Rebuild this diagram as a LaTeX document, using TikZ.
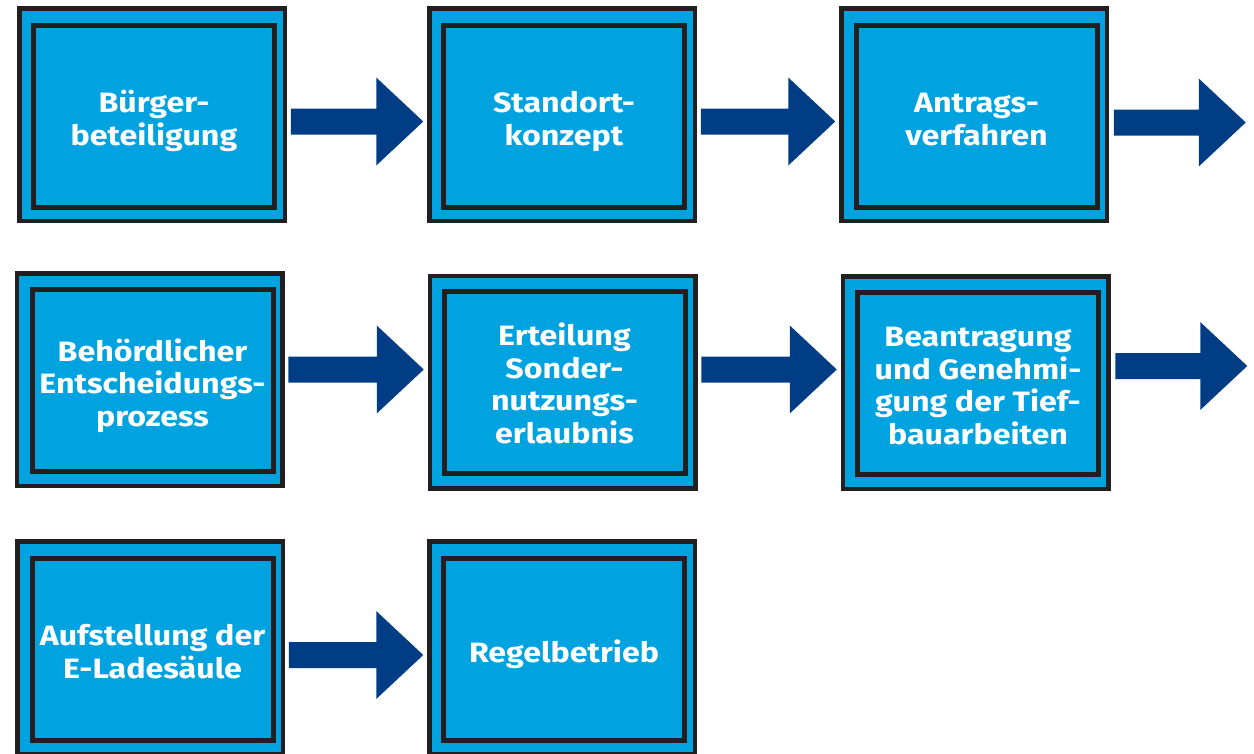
\documentclass[tikz,border=0pt]{standalone}
\usepackage{fontspec}
\setmainfont{Fira Sans}
\newfontfamily\stepfont{Fira Sans}[FakeStretch=1.15]
\usetikzlibrary{calc}
\definecolor{boxfill}{HTML}{00A3E0}
\definecolor{boxedge}{HTML}{231F20}
\definecolor{arrowblue}{HTML}{003D84}

\tikzset{
  outerbox/.style={draw=boxedge, fill=boxfill, line width=4.5pt, inner sep=0pt, outer sep=0pt,
    minimum width=265.5pt, minimum height=212.5pt},
  innerbox/.style={draw=boxedge, line width=5pt, inner sep=0pt, outer sep=0pt,
    minimum width=241pt, minimum height=182pt},
  steptext/.style={text=white, align=center, anchor=base, inner sep=0pt,
    font=\stepfont\bfseries\fontsize{28}{32.5}\selectfont},
}

% block arrow from a start coordinate to a tip coordinate
\newcommand\flowarrow[2]{%
  \fill[arrowblue] ($(#1)+(0,-13)$) -- ($(#2)+(-47,-13)$) -- ($(#2)+(-47,-44)$) -- (#2)
    -- ($(#2)+(-47,44)$) -- ($(#2)+(-47,13)$) -- ($(#1)+(0,13)$) -- cycle;}

\begin{document}
\begin{tikzpicture}[x=1pt, y=-1pt]
\useasboundingbox (0,0) rectangle (1254,753);
\clip (0,0) rectangle (1254,753);

% row 1
\node[outerbox] (o1) at (152,114.5) {};
\node[innerbox] (i1) at (154,116.5) {};
\node[steptext] (t1) at (154,145) {Bürger-\\beteiligung};
\node[outerbox] (o2) at (562,114.5) {};
\node[innerbox] (i2) at (564,116.5) {};
\node[steptext] (t2) at (564,145) {Standort-\\konzept};
\node[outerbox] (o3) at (974,114.5) {};
\node[innerbox] (i3) at (976.5,116.5) {};
\node[steptext] (t3) at (976.5,145) {Antrags-\\verfahren};

% row 2
\node[outerbox] (o4) at (149.5,379.5) {};
\node[innerbox] (i4) at (152.5,380.5) {};
\node[steptext] (t4) at (152.5,426) {Behördlicher\\Entscheidungs-\\prozess};
\node[outerbox] (o5) at (562.5,382) {};
\node[innerbox] (i5) at (564.5,382.5) {};
\node[steptext] (t5) at (564.5,443) {Erteilung\\Sonder-\\nutzungs-\\erlaubnis};
\node[outerbox] (o6) at (975.5,382.5) {};
\node[innerbox] (i6) at (978,383.5) {};
\node[steptext] (t6) at (978,444) {Beantragung\\und Genehmi-\\gung der Tief-\\bauarbeiten};

% row 3
\node[outerbox] (o7) at (150,647.5) {};
\node[innerbox] (i7) at (152.5,649.5) {};
\node[steptext] (t7) at (152.5,678) {Aufstellung der\\E-Ladesäule};
\node[outerbox] (o8) at (562,647.5) {};
\node[innerbox] (i8) at (564,649.5) {};
\node[steptext] (t8) at (564,662) {Regelbetrieb};

% arrow end points
\coordinate (a1s) at ($(o1.east)+(6,7)$);
\coordinate (a1e) at ($(o2.west |- a1s)+(-6,0)$);
\coordinate (a2s) at ($(o2.east)+(6,7)$);
\coordinate (a2e) at ($(o3.west |- a2s)+(-6,0)$);
\coordinate (a3s) at ($(o3.east)+(7,8)$);
\coordinate (a3e) at ($(a3s)+(132,0)$);
\coordinate (a4s) at ($(o4.east)+(6,-10)$);
\coordinate (a4e) at ($(o5.west |- a4s)+(-6,0)$);
\coordinate (a5s) at ($(o5.east)+(6,-12.5)$);
\coordinate (a5e) at ($(o6.west |- a5s)+(-6,0)$);
\coordinate (a6s) at ($(o6.east)+(7,-16.5)$);
\coordinate (a6e) at ($(a6s)+(132,0)$);
\coordinate (a7s) at ($(o7.east)+(6,7.5)$);
\coordinate (a7e) at ($(o8.west |- a7s)+(-6,0)$);

\flowarrow{a1s}{a1e}
\flowarrow{a2s}{a2e}
\flowarrow{a3s}{a3e}
\flowarrow{a4s}{a4e}
\flowarrow{a5s}{a5e}
\flowarrow{a6s}{a6e}
\flowarrow{a7s}{a7e}
\end{tikzpicture}
\end{document}
